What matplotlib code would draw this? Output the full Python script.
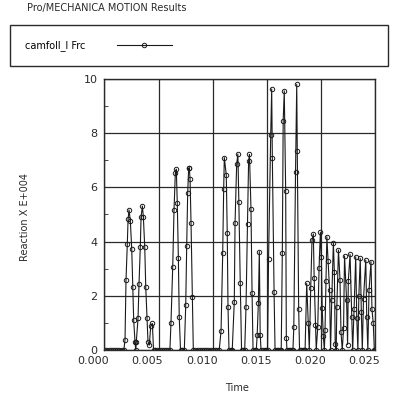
import numpy as np
import matplotlib
matplotlib.use("Agg")
from matplotlib import pyplot as plt
from matplotlib.transforms import ScaledTranslation

# Tempo em ms e reação (x E+004)
time_ms_1 = [0.0, 0.2, 0.4, 0.6, 0.8, 1.0, 1.2, 1.4, 1.6, 1.8,
             1.91, 2.0, 2.12, 2.19, 2.28, 2.40, 2.53, 2.62, 2.71, 2.83, 2.90, 2.95,
             3.11, 3.20, 3.32, 3.39, 3.51, 3.60, 3.73, 3.82, 3.94, 4.03, 4.15, 4.28, 4.43, 4.54]
reaction_1 = [0, 0, 0, 0, 0, 0, 0, 0, 0, 0,
              0.37, 2.58, 3.90, 4.82, 5.17, 4.76, 3.72, 2.34, 1.10, 0.30, 0.0, 0.30,
              1.17, 2.43, 3.81, 4.92, 5.31, 4.92, 3.79, 2.34, 1.17, 0.30, 0.18, 0.88, 0.98, 0.0]

time_ms_2 = [4.7, 4.9, 5.1, 5.3, 5.5, 5.7, 5.9, 6.05,
             6.15, 6.31, 6.43, 6.55, 6.64, 6.73, 6.83, 6.91, 7.03, 7.2, 7.38,
             7.51, 7.60, 7.69, 7.78, 7.84, 7.91, 8.00, 8.12, 8.21,
             8.4, 8.6, 8.8, 9.0, 9.2, 9.4, 9.6, 9.8, 10.0, 10.2, 10.4, 10.6]
reaction_2 = [0, 0, 0, 0, 0, 0, 0, 0,
              1.01, 3.07, 5.17, 6.52, 6.67, 5.44, 3.41, 1.23, 0, 0, 0,
              1.65, 3.85, 5.78, 6.70, 6.73, 6.30, 4.67, 1.97, 0,
              0, 0, 0, 0, 0, 0, 0, 0, 0, 0, 0, 0]

time_ms_3 = [10.77, 10.92, 11.01, 11.07, 11.25, 11.34, 11.41, 11.50, 11.65, 11.8,
             11.99, 12.06, 12.21, 12.32, 12.41, 12.54, 12.66, 12.82, 12.95,
             13.07, 13.21, 13.31, 13.39, 13.53, 13.63, 13.72, 13.88, 14.02,
             14.10, 14.21, 14.30, 14.38, 14.46, 14.62, 14.8, 14.95, 15.06]
reaction_3 = [0.71, 3.57, 5.93, 7.10, 6.46, 4.31, 1.60, 0, 0, 0,
              1.78, 4.70, 6.86, 7.23, 5.47, 2.48, 0, 0, 0,
              1.57, 4.64, 6.97, 7.22, 5.19, 2.09, 0, 0, 0,
              0.55, 1.72, 3.63, 0.55, 0, 0, 0, 0, 0]

time_ms_4 = [15.15, 15.35, 15.44, 15.50, 15.66, 15.75, 15.9, 16.05, 16.2, 16.32,
             16.42, 16.50, 16.60, 16.73, 16.79, 16.85, 17.0, 17.15, 17.3, 17.4,
             17.48, 17.64, 17.75, 17.80, 17.93, 18.01, 18.15, 18.3, 18.45]
reaction_4 = [3.36, 7.93, 9.63, 7.10, 2.13, 0, 0, 0, 0, 0,
              3.57, 8.46, 9.56, 5.87, 0.45, 0, 0, 0, 0, 0,
              0.84, 6.58, 9.80, 7.35, 1.50, 0, 0, 0, 0]

time_ms_5 = [18.52, 18.67, 18.82, 18.91, 19.04, 19.16, 19.28, 19.36, 19.48, 19.55,
             19.69, 19.81, 19.93, 20.02, 20.10, 20.20, 20.30, 20.36, 20.45, 20.53,
             20.64, 20.78, 20.87, 20.98, 21.13, 21.22, 21.30, 21.39, 21.45, 21.60,
             21.74, 21.83, 21.95, 22.07, 22.16, 22.35, 22.44, 22.51, 22.67, 22.82,
             22.91, 23.04, 23.19, 23.29, 23.39, 23.48, 23.61, 23.71, 23.80, 23.91,
             24.12, 24.21, 24.31, 24.42, 24.60, 24.69, 24.81, 24.91, 25.0]
reaction_5 = [0, 2.46, 0.98, 0, 2.28, 4.06, 4.28, 2.64, 0.92, 0,
              0.86, 3.01, 4.34, 3.42, 1.54, 0.52, 0, 0.74, 2.55, 4.18,
              3.28, 2.21, 0, 1.85, 3.96, 2.89, 0.22, 0, 1.60, 3.69,
              2.60, 0.68, 0, 0.80, 3.47, 1.85, 0.20, 2.56, 3.53, 1.23,
              0, 1.50, 3.44, 1.17, 0, 2.00, 3.38, 1.40, 0, 1.90,
              3.32, 1.20, 0, 2.20, 3.26, 1.50, 0.98, 0, 0]

time_s = np.array(time_ms_1 + time_ms_2 + time_ms_3 + time_ms_4 + time_ms_5) * 1e-3
reaction = np.array(reaction_1 + reaction_2 + reaction_3 + reaction_4 + reaction_5)

x_ticks = [0.0, 0.005, 0.010, 0.015, 0.020, 0.025]
y_ticks = [0, 2, 4, 6, 8, 10]

plt.rcParams['font.family'] = 'DejaVu Sans'
ink = '#2a2a2a'

fig = plt.figure(figsize=(4, 3.94), dpi=100)
ax = fig.add_axes([0.2608, 0.1117, 0.6775, 0.6878])

line, = ax.plot(time_s, reaction, color='#1a1a1a', lw=0.8, marker='o', ms=3.2,
                mfc='none', mec='#1a1a1a', mew=0.7)

ax.set_xlim(0, 0.025)
ax.set_ylim(0, 10)
ax.set_xticks(x_ticks)
ax.set_xticklabels([f"{v:.3f}" for v in x_ticks])
ax.set_yticks(y_ticks)
ax.set_yticklabels([str(v) for v in y_ticks])
ax.set_yticks([1, 3, 5, 7, 9], minor=True)
ax.tick_params(axis='both', which='major', length=0, labelsize=8, colors=ink)
ax.tick_params(axis='y', which='major', pad=5)
ax.tick_params(axis='x', which='major', pad=4)
ax.tick_params(axis='y', which='minor', direction='in', length=3, color=ink)
ax.grid(True, which='major', color=ink, lw=0.9)
for sp in ax.spines.values():
    sp.set_color(ink)
    sp.set_linewidth(1.0)

# rótulos do eixo x ficam um pouco à esquerda da marca
offset = ScaledTranslation(-11 / 100, 0, fig.dpi_scale_trans)
for lbl in ax.get_xticklabels():
    lbl.set_transform(lbl.get_transform() + offset)

ax.set_ylabel('Reaction X E+004', fontsize=7, color=ink)
ax.yaxis.set_label_coords(-0.274, 0.49)
ax.set_xlabel('Time', fontsize=7, color=ink)
ax.xaxis.set_label_coords(0.49, -0.122)

fig.text(27 / 400, 1 - 8 / 394, 'Pro/MECHANICA MOTION Results', fontsize=7,
         va='center', ha='left', color=ink)

leg = ax.legend([line], ['camfoll_l Frc'], loc='upper left',
                bbox_to_anchor=(10 / 400, 1 - 66 / 394, 378 / 400, 41 / 394),
                bbox_transform=fig.transFigure, mode='expand', borderaxespad=0,
                markerfirst=False, handlelength=5.7, handletextpad=3.2,
                borderpad=1.55, fontsize=7, fancybox=False, framealpha=1,
                edgecolor=ink)
leg.get_frame().set_linewidth(1.0)

fig.savefig('out.png', dpi=100, facecolor='white')
